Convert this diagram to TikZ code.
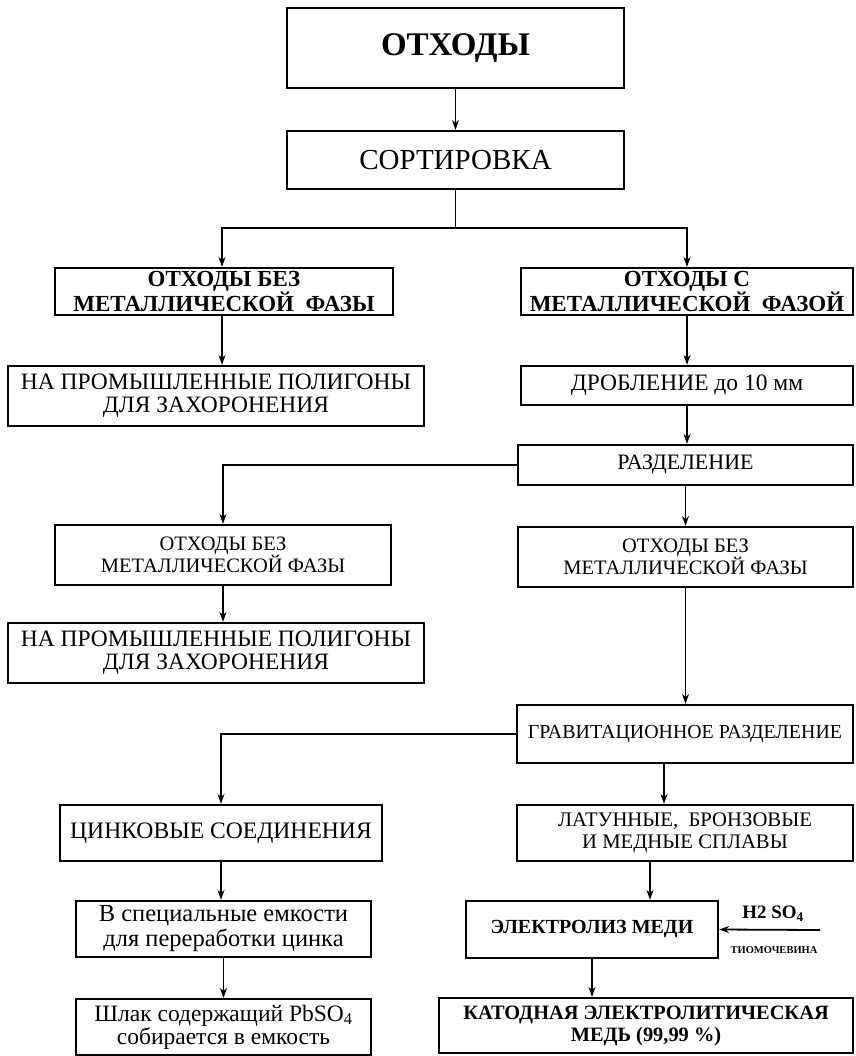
\documentclass[tikz,border=0pt]{standalone}
\usepackage{fontspec}
\setmainfont{Liberation Serif}
\usetikzlibrary{arrows.meta}
\tikzset{
  bloc/.style={draw, line width=2.2pt, align=center, inner sep=0pt},
  fleche/.style={line width=1.8pt, -{Stealth[length=10pt, width=7pt]}}
}
\newcommand{\taille}[2]{\fontsize{#1}{#2}\selectfont}

\begin{document}
\begin{tikzpicture}[x=1pt, y=-1pt]
\useasboundingbox (0,0) rectangle (855,1056);
\node[bloc, minimum width=337pt, minimum height=80pt, font=\bfseries\taille{33}{33}] (O) at (455.5,48) {ОТХОДЫ};
\node[bloc, minimum width=337pt, minimum height=58pt, font=\taille{29}{29}] (S) at (455.5,160) {СОРТИРОВКА};
\node[bloc, minimum width=338pt, minimum height=47pt, font=\bfseries\taille{23}{22}] (OBM) at (224,291.5) {ОТХОДЫ БЕЗ\\МЕТАЛЛИЧЕСКОЙ\ \ ФАЗЫ};
\node[bloc, minimum width=332pt, minimum height=47pt, font=\bfseries\taille{23}{22}] (OSM) at (687,291.5) {ОТХОДЫ С\\МЕТАЛЛИЧЕСКОЙ\ \ ФАЗОЙ};
\node[bloc, minimum width=416pt, minimum height=60pt, font=\taille{23.5}{23}] (NPP) at (216,396) {НА ПРОМЫШЛЕННЫЕ ПОЛИГОНЫ\\ДЛЯ ЗАХОРОНЕНИЯ};
\node[bloc, minimum width=332pt, minimum height=39pt, font=\taille{23.5}{23}] (DR) at (687,385.5) {ДРОБЛЕНИЕ до 10 мм};
\node[bloc, minimum width=335pt, minimum height=40pt, font=\taille{22}{22}] (R) at (685.5,465) {РАЗДЕЛЕНИЕ};
\node[bloc, minimum width=336pt, minimum height=60pt, font=\taille{20.5}{22}] (OBM2) at (223,555) {ОТХОДЫ БЕЗ\\МЕТАЛЛИЧЕСКОЙ ФАЗЫ};
\node[bloc, minimum width=335pt, minimum height=60pt, font=\taille{20.5}{22}] (OBM3) at (685.5,557) {ОТХОДЫ БЕЗ\\МЕТАЛЛИЧЕСКОЙ ФАЗЫ};
\node[bloc, minimum width=416pt, minimum height=60pt, font=\taille{23.5}{23}] (NPP2) at (216,653) {НА ПРОМЫШЛЕННЫЕ ПОЛИГОНЫ\\ДЛЯ ЗАХОРОНЕНИЯ};
\node[bloc, minimum width=336pt, minimum height=58pt, font=\taille{19.9}{20}] (GR) at (685,734) {ГРАВИТАЦИОННОЕ РАЗДЕЛЕНИЕ};
\node[bloc, minimum width=322pt, minimum height=56pt, font=\taille{23.6}{23}] (CS) at (221,833) {ЦИНКОВЫЕ СОЕДИНЕНИЯ};
\node[bloc, minimum width=336pt, minimum height=56pt, font=\taille{20.7}{22}] (LBM) at (685,833) {ЛАТУННЫЕ,\ \ БРОНЗОВЫЕ\\И МЕДНЫЕ СПЛАВЫ};
\node[bloc, minimum width=295pt, minimum height=56pt, font=\taille{24.5}{25}] (VSE) at (223.5,929) {В специальные емкости\\для переработки цинка};
\node[bloc, minimum width=252pt, minimum height=57pt, font=\bfseries\taille{20}{20}] (EM) at (592,929.5) {ЭЛЕКТРОЛИЗ МЕДИ};
\node[bloc, minimum width=295pt, minimum height=56pt, font=\taille{23.5}{23}] (SL) at (223.5,1027) {Шлак содержащий PbSO\textsubscript{4}\\собирается в емкость};
\node[bloc, minimum width=414pt, minimum height=55pt, font=\bfseries\taille{20.4}{22}] (KEM) at (646,1025.5) {КАТОДНАЯ ЭЛЕКТРОЛИТИЧЕСКАЯ\\МЕДЬ (99,99 \%)};
\node[font=\bfseries\taille{19}{19}] (H) at (773,914) {H2 SO\textsubscript{4}};
\node[font=\bfseries\taille{10.5}{10.5}] (T) at (774,950) {ТИОМОЧЕВИНА};
\coordinate (br) at (455.5,228);
\coordinate (acid) at (820,930);
% liaisons
\draw[fleche] (O) -- (S);
\draw[line width=1.8pt] (S) -- (br);
\draw[fleche] (br) -| ([xshift=-2pt]OBM.north);
\draw[fleche] (br) -| (OSM.north);
\draw[fleche] ([xshift=-2pt]OBM.south) -- ([xshift=-2pt]OBM.south |- NPP.north);
\draw[fleche] (OSM) -- (DR);
\draw[fleche] (DR) -- (DR.south |- R.north);
\draw[fleche] (R.west) -| (OBM2.north);
\draw[fleche] (R.south) -- (R.south |- OBM3.north);
\draw[fleche] (OBM2) -- (OBM2.south |- NPP2.north);
\draw[fleche] (OBM3.south) -- (OBM3.south |- GR.north);
\draw[fleche] (GR.west) -| (CS.north);
\draw[fleche] ([xshift=-21pt]GR.south) -- ([xshift=-21pt]GR.south |- LBM.north);
\draw[fleche] (CS.south) -- (CS.south |- VSE.north);
\draw[fleche] ([xshift=-35pt]LBM.south) -- ([xshift=-35pt]LBM.south |- EM.north);
\draw[fleche] (acid) -- (EM.east);
\draw[fleche] (VSE) -- (SL);
\draw[fleche] (EM.south) -- (EM.south |- KEM.north);
\end{tikzpicture}
\end{document}
